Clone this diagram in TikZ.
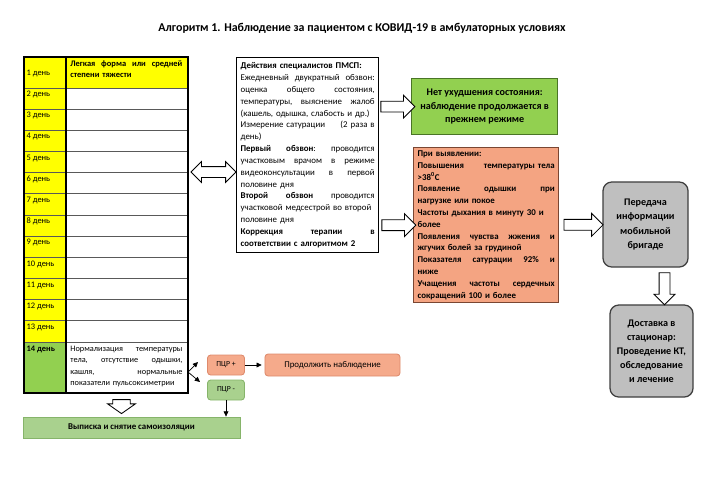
\documentclass[tikz,border=0pt]{standalone}
\usepackage{fontspec}
\setmainfont{Carlito}
\usetikzlibrary{positioning,arrows.meta,shapes.arrows,calc}
\definecolor{dayyellow}{HTML}{FFFF00}
\definecolor{daygreen}{HTML}{92D050}
\definecolor{okgreen}{HTML}{92D050}
\definecolor{okline}{HTML}{4A7526}
\definecolor{alertfill}{HTML}{F4A482}
\definecolor{alertline}{HTML}{7A4632}
\definecolor{pcrred}{HTML}{F5AA8B}
\definecolor{pcrredline}{HTML}{DE8A6C}
\definecolor{pcrgreen}{HTML}{A9D18E}
\definecolor{pcrgreenline}{HTML}{86B46A}
\definecolor{greyfill}{HTML}{BFBFBF}
\definecolor{greyline}{HTML}{3F3F3F}
\definecolor{rowgrey}{HTML}{595959}
\newcommand{\bodysize}{\fontsize{6.3}{8.4}\selectfont}
\tikzset{
  textbox/.style={draw, line width=0.9pt, text width=3.35cm, align=left, inner xsep=0.1cm, inner ysep=0.06cm, font=\bodysize},
  carebox/.style={textbox, fill=white, minimum height=4.875cm},
  alertbox/.style={textbox, fill=alertfill, draw=alertline, text width=3.425cm, minimum height=3.875cm, font=\bodysize\bfseries},
  okbox/.style={draw=okline, line width=0.9pt, fill=okgreen, minimum width=3.65cm, minimum height=1.4cm, align=center, font=\fontsize{7.2}{9.5}\selectfont\bfseries},
  teambox/.style={draw=greyline, line width=0.9pt, fill=greyfill, rounded corners=0.22cm, align=center, font=\fontsize{7.2}{10}\selectfont\bfseries},
  pcrbox/.style={rounded corners=0.08cm, line width=0.6pt, minimum width=0.925cm, minimum height=0.5cm, font=\fontsize{5.5}{6}\selectfont},
  exitbox/.style={draw=pcrgreenline, line width=0.6pt, fill=pcrgreen, minimum width=5.425cm, minimum height=0.525cm, font=\fontsize{6.3}{7}\selectfont\bfseries},
  blockarrow/.style={single arrow, draw, line width=0.6pt, fill=white, inner sep=0.125cm, single arrow head extend=0.15cm},
  thinarrow/.style={-{Triangle[length=1.3mm, width=1.2mm]}, line width=0.5pt},
  daytext/.style={anchor=north west, inner sep=1pt, font=\fontsize{6}{7.5}\selectfont},
  tableframe/.style={line width=0.9pt},
  rowline/.style={line width=0.6pt, rowgrey}
}

\begin{document}
\begin{tikzpicture}[x=0.025cm, y=-0.025cm]
  \useasboundingbox (0,0) rectangle (714,499);
  \node[font=\fontsize{8.5}{10}\selectfont\bfseries] (title) at (362,28) {Алгоритм 1. Наблюдение за пациентом с КОВИД-19 в амбулаторных условиях};

  % day table
  \fill[dayyellow] (24,57) rectangle (66,342);
  \fill[dayyellow] (66,57) rectangle (188,88);
  \fill[daygreen] (24,342) rectangle (66,393);
  \foreach \k in {0,...,12}
    \draw[rowline] (24,{88+\k*21.17}) -- (188,{88+\k*21.17});
  \draw[tableframe] (24,57) rectangle (188,393);
  \draw[tableframe] (66,57) -- (66,393);
  \node[anchor=west, inner sep=1pt, font=\fontsize{6}{7.5}\selectfont] (day1) at (25,73) {1 день};
  \foreach \k in {2,...,13}
    \node[daytext] (day\k) at (25,{88+(\k-2)*21.17+1.5}) {\k~день};
  \node[daytext, font=\fontsize{6}{7.5}\selectfont\bfseries] (day14) at (25,344) {14 день};
  \node[anchor=north west, text width=2.8cm, inner sep=1.5pt, align=left, font=\fontsize{6}{8}\selectfont\bfseries] (form) at (68,58)
    {Легкая\hfill форма\hfill или\hfill средней\\степени тяжести};
  \node[anchor=north west, text width=2.8cm, inner sep=1.5pt, align=left, font=\fontsize{5.9}{8}\selectfont] (norm) at (68,344)
    {Нормализация\hfill температуры\\тела,\hfill отсутствие\hfill одышки,\\кашля,\hfill нормальные\\показатели пульсоксиметрии};

  % right-hand boxes
  \node[carebox, anchor=north west] (care) at (236,57) {\textbf{Действия специалистов ПМСП:}\\
    Ежедневный\hfill двукратный\hfill обзвон:\\
    оценка\hfill общего\hfill состояния,\\
    температуры,\hfill выяснение\hfill жалоб\\
    (кашель, одышка, слабость и др.)\\
    Измерение сатурации\hfill (2 раза в\\
    день)\\
    \textbf{Первый\hfill обзвон}:\hfill проводится\\
    участковым\hfill врачом\hfill в\hfill режиме\\
    видеоконсультации\hfill в\hfill первой\\
    половине дня\\
    \textbf{Второй\hfill обзвон}\hfill проводится\\
    участковой медсестрой во второй\\
    половине дня\\
    \textbf{Коррекция\hfill терапии\hfill в}\\
    \textbf{соответствии с алгоритмом 2}};
  \node[okbox, anchor=north west] (ok) at (411,78) {Нет ухудшения состояния:\\наблюдение продолжается в\\прежнем режиме};
  \node[alertbox, anchor=north west] (alert) at (413,147) {При выявлении:\\
    Повышения\hfill температуры тела\\
    >38\textsuperscript{0}С\\
    Появление\hfill одышки\hfill при\\
    нагрузке или покое\\
    Частоты дыхания в минуту 30 и\\
    более\\
    Появления\hfill чувства\hfill жжения\hfill и\\
    жгучих болей за грудиной\\
    Показателя\hfill сатурации\hfill 92\%\hfill и\\
    ниже\\
    Учащения\hfill частоты\hfill сердечных\\
    сокращений 100 и более};
  \node[teambox, minimum width=2.125cm, minimum height=2.125cm] (team) at (645.5,224.5) {Передача\\информации\\мобильной\\бригаде};
  \node[teambox, minimum width=2.075cm, minimum height=2.3cm] (hosp) at (651.5,351) {Доставка в\\стационар:\\Проведение КТ,\\обследование\\и лечение};

  % bottom row
  \node[pcrbox, draw=pcrredline, fill=pcrred] (pcrplus) at (226,365) {ПЦР +};
  \node[pcrbox, draw=pcrgreenline, fill=pcrgreen] (pcrminus) at (226,390) {ПЦР -};
  \node[pcrbox, draw=pcrredline, fill=pcrred, minimum width=3.375cm, minimum height=0.55cm, font=\fontsize{6.3}{7}\selectfont] (keep) at (332.5,365) {Продолжить наблюдение};
  \node[exitbox] (exit) at (131.5,427.5) {Выписка и снятие самоизоляции};

  % block arrows
  \node[blockarrow, double arrow, double arrow head extend=0.125cm, minimum height=1.125cm] (tblcare) at (213.5,172) {};
  \node[blockarrow, minimum height=0.85cm] (careok) at ($(care.east|-ok)!0.5!(ok.west)$) {};
  \node[blockarrow, minimum height=0.85cm] (carealert) at ($(care.east|-alert)!0.5!(alert.west)$) {};
  \node[blockarrow, minimum height=0.975cm] (alertteam) at ($(alert.east)!0.5!(team.west)$) {};
  \node[blockarrow, shape border rotate=270, single arrow head extend=0.125cm, minimum height=0.8cm] (teamhosp) at ([xshift=0.4cm]$(team.south)!0.5!(hosp.north)$) {};
  \node[blockarrow, shape border rotate=270, inner xsep=0.21cm, inner ysep=0pt, single arrow head extend=0.125cm, single arrow tip angle=110, minimum height=0.35cm] (tblexit) at (121.5,403.5) {};

  % thin connectors
  \coordinate (fork) at (188,372);
  \coordinate (upTip) at (198,362);
  \coordinate (downTip) at (200,382);
  \draw[thinarrow] (fork) -- (upTip);
  \draw[thinarrow] (fork) -- (downTip);
  \draw[thinarrow] (pcrplus.east) -- ([xshift=-0.07cm]keep.west|-pcrplus.east);
  \draw[thinarrow] (pcrminus.south) -- (pcrminus.south|-exit.north);
\end{tikzpicture}
\end{document}
